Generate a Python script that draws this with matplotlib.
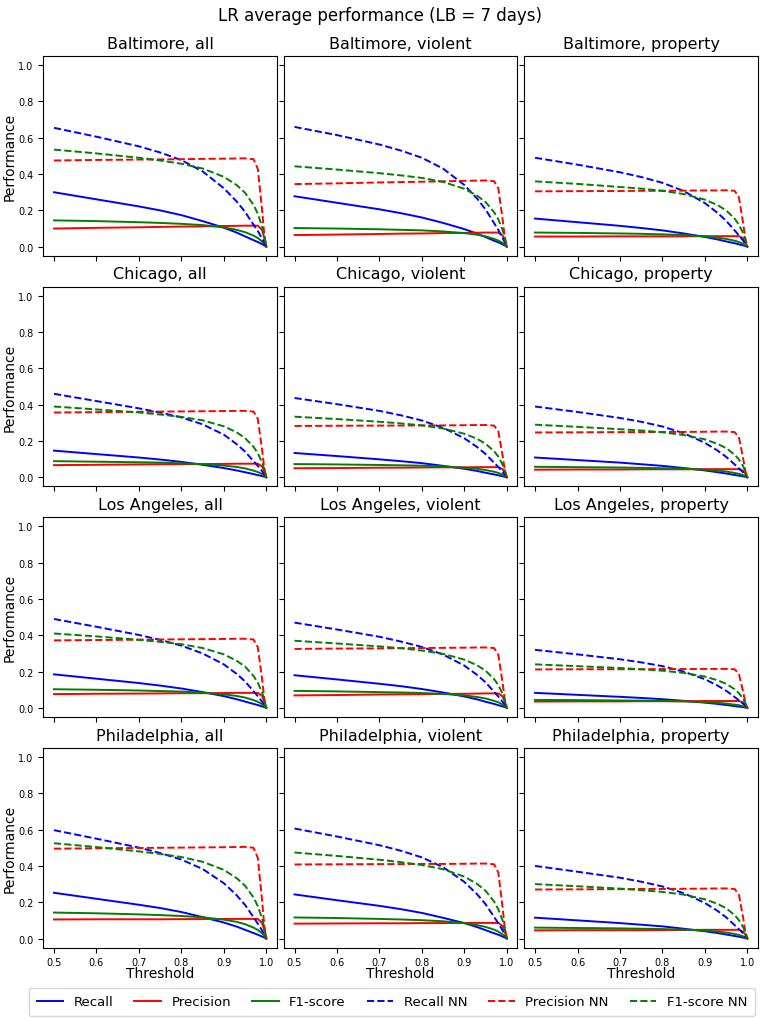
import matplotlib
matplotlib.use("Agg")
import matplotlib.pyplot as plt

thresholds = [0.5, 0.6, 0.7, 0.75, 0.8, 0.85, 0.9, 0.93, 0.95, 0.97, 0.98, 0.99, 0.995, 1.0]

cities = ["Baltimore", "Chicago", "Los Angeles", "Philadelphia"]
crimes = ["all", "violent", "property"]

# ---- Baltimore ----
balt_all_recall = [0.300, 0.261, 0.222, 0.200, 0.174, 0.141, 0.105, 0.078, 0.057, 0.036, 0.026, 0.014, 0.008, 0]
balt_all_precision = [0.100, 0.104, 0.107, 0.109, 0.111, 0.112, 0.114, 0.115, 0.116, 0.116, 0.116, 0.093, 0.052, 0]
balt_all_f1 = [0.145, 0.141, 0.135, 0.131, 0.126, 0.119, 0.106, 0.093, 0.080, 0.061, 0.048, 0.029, 0.017, 0]
balt_all_recall_nn = [0.655, 0.606, 0.553, 0.519, 0.477, 0.415, 0.322, 0.250, 0.192, 0.121, 0.086, 0.046, 0.024, 0]
balt_all_precision_nn = [0.475, 0.478, 0.480, 0.481, 0.482, 0.484, 0.485, 0.486, 0.487, 0.482, 0.429, 0.205, 0.073, 0]
balt_all_f1_nn = [0.535, 0.514, 0.490, 0.475, 0.457, 0.431, 0.385, 0.340, 0.297, 0.230, 0.182, 0.112, 0.064, 0]

balt_vio_recall = [0.278, 0.242, 0.206, 0.185, 0.161, 0.131, 0.097, 0.072, 0.053, 0.033, 0.024, 0.013, 0.007, 0]
balt_vio_precision = [0.064, 0.067, 0.070, 0.072, 0.073, 0.075, 0.076, 0.077, 0.078, 0.078, 0.078, 0.062, 0.035, 0]
balt_vio_f1 = [0.103, 0.100, 0.096, 0.093, 0.090, 0.084, 0.075, 0.066, 0.057, 0.043, 0.034, 0.021, 0.012, 0]
balt_vio_recall_nn = [0.660, 0.615, 0.563, 0.530, 0.490, 0.430, 0.340, 0.265, 0.205, 0.130, 0.092, 0.049, 0.025, 0]
balt_vio_precision_nn = [0.345, 0.349, 0.354, 0.356, 0.358, 0.360, 0.363, 0.364, 0.365, 0.361, 0.321, 0.153, 0.055, 0]
balt_vio_f1_nn = [0.443, 0.425, 0.405, 0.393, 0.379, 0.357, 0.319, 0.281, 0.246, 0.190, 0.151, 0.093, 0.053, 0]

balt_pro_recall = [0.155, 0.135, 0.115, 0.103, 0.090, 0.073, 0.054, 0.040, 0.029, 0.019, 0.013, 0.007, 0.004, 0]
balt_pro_precision = [0.056, 0.056, 0.057, 0.057, 0.057, 0.057, 0.058, 0.058, 0.058, 0.058, 0.058, 0.046, 0.026, 0]
balt_pro_f1 = [0.078, 0.076, 0.073, 0.071, 0.068, 0.064, 0.057, 0.050, 0.043, 0.033, 0.026, 0.016, 0.009, 0]
balt_pro_recall_nn = [0.490, 0.452, 0.410, 0.384, 0.352, 0.307, 0.240, 0.186, 0.143, 0.090, 0.063, 0.034, 0.017, 0]
balt_pro_precision_nn = [0.305, 0.306, 0.307, 0.308, 0.308, 0.309, 0.310, 0.310, 0.311, 0.308, 0.274, 0.131, 0.047, 0]
balt_pro_f1_nn = [0.360, 0.346, 0.329, 0.320, 0.308, 0.290, 0.259, 0.229, 0.200, 0.155, 0.122, 0.076, 0.043, 0]

# ---- Chicago ----
chi_all_recall = [0.147, 0.128, 0.109, 0.098, 0.085, 0.069, 0.051, 0.038, 0.028, 0.018, 0.012, 0.007, 0.004, 0]
chi_all_precision = [0.067, 0.069, 0.071, 0.072, 0.072, 0.073, 0.074, 0.075, 0.075, 0.075, 0.075, 0.060, 0.034, 0]
chi_all_f1 = [0.089, 0.086, 0.083, 0.081, 0.077, 0.073, 0.065, 0.057, 0.049, 0.037, 0.029, 0.018, 0.011, 0]
chi_all_recall_nn = [0.460, 0.420, 0.380, 0.357, 0.330, 0.292, 0.235, 0.183, 0.142, 0.089, 0.063, 0.034, 0.017, 0]
chi_all_precision_nn = [0.357, 0.359, 0.361, 0.362, 0.363, 0.364, 0.365, 0.366, 0.366, 0.362, 0.322, 0.154, 0.055, 0]
chi_all_f1_nn = [0.390, 0.374, 0.357, 0.346, 0.333, 0.314, 0.281, 0.248, 0.216, 0.168, 0.133, 0.082, 0.047, 0]

chi_vio_recall = [0.134, 0.117, 0.099, 0.089, 0.078, 0.063, 0.047, 0.035, 0.025, 0.016, 0.011, 0.006, 0.003, 0]
chi_vio_precision = [0.050, 0.051, 0.053, 0.053, 0.054, 0.055, 0.055, 0.056, 0.056, 0.056, 0.056, 0.045, 0.025, 0]
chi_vio_f1 = [0.073, 0.071, 0.068, 0.066, 0.064, 0.060, 0.053, 0.047, 0.040, 0.031, 0.024, 0.015, 0.009, 0]
chi_vio_recall_nn = [0.437, 0.403, 0.366, 0.342, 0.313, 0.273, 0.215, 0.167, 0.128, 0.080, 0.057, 0.030, 0.016, 0]
chi_vio_precision_nn = [0.283, 0.284, 0.285, 0.285, 0.286, 0.286, 0.287, 0.288, 0.288, 0.285, 0.253, 0.121, 0.043, 0]
chi_vio_f1_nn = [0.334, 0.321, 0.306, 0.297, 0.286, 0.269, 0.240, 0.212, 0.185, 0.144, 0.114, 0.070, 0.040, 0]

chi_pro_recall = [0.109, 0.095, 0.081, 0.072, 0.063, 0.051, 0.038, 0.028, 0.021, 0.013, 0.009, 0.005, 0.003, 0]
chi_pro_precision = [0.042, 0.043, 0.043, 0.044, 0.044, 0.044, 0.045, 0.045, 0.045, 0.045, 0.045, 0.036, 0.020, 0]
chi_pro_f1 = [0.058, 0.056, 0.054, 0.052, 0.050, 0.048, 0.042, 0.037, 0.032, 0.024, 0.019, 0.012, 0.007, 0]
chi_pro_recall_nn = [0.390, 0.360, 0.327, 0.306, 0.280, 0.243, 0.190, 0.147, 0.113, 0.071, 0.050, 0.027, 0.014, 0]
chi_pro_precision_nn = [0.247, 0.248, 0.249, 0.249, 0.250, 0.250, 0.251, 0.252, 0.252, 0.249, 0.222, 0.106, 0.038, 0]
chi_pro_f1_nn = [0.290, 0.278, 0.265, 0.258, 0.248, 0.233, 0.209, 0.184, 0.161, 0.125, 0.099, 0.061, 0.035, 0]

# ---- Los Angeles ----
la_all_recall = [0.185, 0.161, 0.137, 0.123, 0.107, 0.087, 0.065, 0.048, 0.035, 0.022, 0.016, 0.008, 0.005, 0]
la_all_precision = [0.076, 0.078, 0.079, 0.080, 0.081, 0.081, 0.082, 0.083, 0.083, 0.083, 0.083, 0.066, 0.037, 0]
la_all_f1 = [0.103, 0.100, 0.096, 0.093, 0.090, 0.084, 0.075, 0.066, 0.057, 0.043, 0.034, 0.021, 0.012, 0]
la_all_recall_nn = [0.490, 0.447, 0.402, 0.375, 0.343, 0.300, 0.240, 0.188, 0.146, 0.092, 0.065, 0.035, 0.018, 0]
la_all_precision_nn = [0.372, 0.374, 0.376, 0.377, 0.378, 0.379, 0.380, 0.381, 0.381, 0.377, 0.335, 0.160, 0.057, 0]
la_all_f1_nn = [0.410, 0.394, 0.375, 0.364, 0.351, 0.330, 0.295, 0.260, 0.228, 0.176, 0.139, 0.086, 0.049, 0]

la_vio_recall = [0.180, 0.157, 0.133, 0.120, 0.104, 0.085, 0.063, 0.047, 0.034, 0.022, 0.015, 0.008, 0.005, 0]
la_vio_precision = [0.069, 0.071, 0.074, 0.075, 0.076, 0.077, 0.078, 0.079, 0.080, 0.080, 0.080, 0.064, 0.036, 0]
la_vio_f1 = [0.094, 0.091, 0.087, 0.085, 0.082, 0.077, 0.069, 0.060, 0.052, 0.039, 0.031, 0.019, 0.011, 0]
la_vio_recall_nn = [0.470, 0.432, 0.392, 0.366, 0.336, 0.294, 0.233, 0.182, 0.141, 0.089, 0.063, 0.034, 0.017, 0]
la_vio_precision_nn = [0.325, 0.327, 0.328, 0.329, 0.330, 0.331, 0.332, 0.333, 0.333, 0.330, 0.293, 0.140, 0.050, 0]
la_vio_f1_nn = [0.370, 0.355, 0.339, 0.329, 0.316, 0.298, 0.266, 0.235, 0.205, 0.159, 0.126, 0.078, 0.044, 0]

la_pro_recall = [0.083, 0.072, 0.061, 0.055, 0.048, 0.039, 0.029, 0.022, 0.016, 0.010, 0.007, 0.004, 0.002, 0]
la_pro_precision = [0.035, 0.036, 0.036, 0.037, 0.037, 0.037, 0.038, 0.038, 0.038, 0.038, 0.038, 0.030, 0.017, 0]
la_pro_f1 = [0.044, 0.043, 0.041, 0.040, 0.038, 0.036, 0.032, 0.028, 0.024, 0.018, 0.015, 0.009, 0.005, 0]
la_pro_recall_nn = [0.320, 0.295, 0.268, 0.251, 0.230, 0.200, 0.158, 0.123, 0.095, 0.060, 0.042, 0.023, 0.012, 0]
la_pro_precision_nn = [0.212, 0.213, 0.213, 0.213, 0.214, 0.214, 0.215, 0.215, 0.215, 0.213, 0.189, 0.090, 0.032, 0]
la_pro_f1_nn = [0.240, 0.230, 0.220, 0.213, 0.205, 0.193, 0.173, 0.152, 0.133, 0.103, 0.082, 0.050, 0.029, 0]

# ---- Philadelphia ----
phi_all_recall = [0.252, 0.219, 0.186, 0.168, 0.146, 0.118, 0.088, 0.066, 0.048, 0.030, 0.021, 0.011, 0.006, 0]
phi_all_precision = [0.105, 0.106, 0.106, 0.106, 0.107, 0.107, 0.108, 0.108, 0.108, 0.108, 0.108, 0.086, 0.049, 0]
phi_all_f1 = [0.143, 0.139, 0.133, 0.129, 0.124, 0.117, 0.104, 0.092, 0.079, 0.060, 0.047, 0.029, 0.017, 0]
phi_all_recall_nn = [0.597, 0.550, 0.501, 0.471, 0.435, 0.383, 0.305, 0.239, 0.185, 0.117, 0.082, 0.044, 0.023, 0]
phi_all_precision_nn = [0.495, 0.497, 0.499, 0.500, 0.501, 0.502, 0.503, 0.504, 0.505, 0.500, 0.444, 0.212, 0.076, 0]
phi_all_f1_nn = [0.525, 0.504, 0.480, 0.466, 0.449, 0.423, 0.378, 0.333, 0.291, 0.226, 0.179, 0.110, 0.063, 0]

phi_vio_recall = [0.243, 0.211, 0.180, 0.162, 0.141, 0.114, 0.085, 0.063, 0.046, 0.029, 0.021, 0.011, 0.006, 0]
phi_vio_precision = [0.082, 0.083, 0.084, 0.084, 0.085, 0.085, 0.086, 0.086, 0.086, 0.086, 0.086, 0.069, 0.039, 0]
phi_vio_f1 = [0.116, 0.113, 0.108, 0.105, 0.101, 0.095, 0.085, 0.074, 0.064, 0.049, 0.038, 0.023, 0.014, 0]
phi_vio_recall_nn = [0.606, 0.562, 0.514, 0.484, 0.447, 0.393, 0.312, 0.244, 0.189, 0.119, 0.084, 0.045, 0.023, 0]
phi_vio_precision_nn = [0.408, 0.409, 0.410, 0.410, 0.411, 0.411, 0.412, 0.413, 0.413, 0.409, 0.363, 0.173, 0.062, 0]
phi_vio_f1_nn = [0.474, 0.455, 0.434, 0.421, 0.405, 0.382, 0.341, 0.301, 0.263, 0.204, 0.161, 0.100, 0.057, 0]

phi_pro_recall = [0.115, 0.100, 0.085, 0.076, 0.067, 0.054, 0.040, 0.030, 0.022, 0.014, 0.010, 0.005, 0.003, 0]
phi_pro_precision = [0.045, 0.046, 0.046, 0.046, 0.047, 0.047, 0.048, 0.048, 0.048, 0.048, 0.048, 0.038, 0.022, 0]
phi_pro_f1 = [0.060, 0.058, 0.056, 0.054, 0.052, 0.049, 0.044, 0.038, 0.033, 0.025, 0.020, 0.012, 0.007, 0]
phi_pro_recall_nn = [0.400, 0.368, 0.335, 0.313, 0.287, 0.250, 0.196, 0.152, 0.117, 0.074, 0.052, 0.028, 0.014, 0]
phi_pro_precision_nn = [0.270, 0.271, 0.272, 0.273, 0.273, 0.274, 0.275, 0.276, 0.276, 0.273, 0.243, 0.116, 0.041, 0]
phi_pro_f1_nn = [0.300, 0.288, 0.275, 0.266, 0.257, 0.242, 0.216, 0.191, 0.167, 0.129, 0.102, 0.063, 0.036, 0]

panels = [
    [(balt_all_recall, balt_all_precision, balt_all_f1, balt_all_recall_nn, balt_all_precision_nn, balt_all_f1_nn),
     (balt_vio_recall, balt_vio_precision, balt_vio_f1, balt_vio_recall_nn, balt_vio_precision_nn, balt_vio_f1_nn),
     (balt_pro_recall, balt_pro_precision, balt_pro_f1, balt_pro_recall_nn, balt_pro_precision_nn, balt_pro_f1_nn)],
    [(chi_all_recall, chi_all_precision, chi_all_f1, chi_all_recall_nn, chi_all_precision_nn, chi_all_f1_nn),
     (chi_vio_recall, chi_vio_precision, chi_vio_f1, chi_vio_recall_nn, chi_vio_precision_nn, chi_vio_f1_nn),
     (chi_pro_recall, chi_pro_precision, chi_pro_f1, chi_pro_recall_nn, chi_pro_precision_nn, chi_pro_f1_nn)],
    [(la_all_recall, la_all_precision, la_all_f1, la_all_recall_nn, la_all_precision_nn, la_all_f1_nn),
     (la_vio_recall, la_vio_precision, la_vio_f1, la_vio_recall_nn, la_vio_precision_nn, la_vio_f1_nn),
     (la_pro_recall, la_pro_precision, la_pro_f1, la_pro_recall_nn, la_pro_precision_nn, la_pro_f1_nn)],
    [(phi_all_recall, phi_all_precision, phi_all_f1, phi_all_recall_nn, phi_all_precision_nn, phi_all_f1_nn),
     (phi_vio_recall, phi_vio_precision, phi_vio_f1, phi_vio_recall_nn, phi_vio_precision_nn, phi_vio_f1_nn),
     (phi_pro_recall, phi_pro_precision, phi_pro_f1, phi_pro_recall_nn, phi_pro_precision_nn, phi_pro_f1_nn)],
]

series_labels = ["Recall", "Precision", "F1-score", "Recall NN", "Precision NN", "F1-score NN"]
series_colors = ["blue", "red", "green", "blue", "red", "green"]
series_styles = ["-", "-", "-", "--", "--", "--"]

fig, axes = plt.subplots(4, 3, figsize=(7.61, 10.2), dpi=100, sharex=True, sharey=True)
fig.subplots_adjust(left=0.057, right=0.996, top=0.944, bottom=0.07, wspace=0.03, hspace=0.155)

for i, city in enumerate(cities):
    for j, crime in enumerate(crimes):
        ax = axes[i, j]
        for vals, lab, col, ls in zip(panels[i][j], series_labels, series_colors, series_styles):
            ax.plot(thresholds, vals, color=col, linestyle=ls, linewidth=1.4, label=lab)
        ax.set_title(f"{city}, {crime}", fontsize=11.5)
        ax.set_ylim(-0.05, 1.05)
        ax.set_yticks([0.0, 0.2, 0.4, 0.6, 0.8, 1.0])
        ax.set_xticks([0.5, 0.6, 0.7, 0.8, 0.9, 1.0])
        ax.tick_params(labelsize=7)
        if j == 0:
            ax.set_ylabel("Performance", fontsize=10, labelpad=1)
        if i == 3:
            ax.set_xlabel("Threshold", fontsize=10, labelpad=-1)

fig.suptitle("LR average performance (LB = 7 days)", fontsize=12, y=0.993)
handles, labels = axes[0, 0].get_legend_handles_labels()
fig.legend(handles, labels, loc="lower center", ncol=6, fontsize=9.5,
           columnspacing=1.6, borderpad=0.6, borderaxespad=0.2,
           bbox_to_anchor=(0.515, 0.0))

fig.savefig("out.png", dpi=100)
